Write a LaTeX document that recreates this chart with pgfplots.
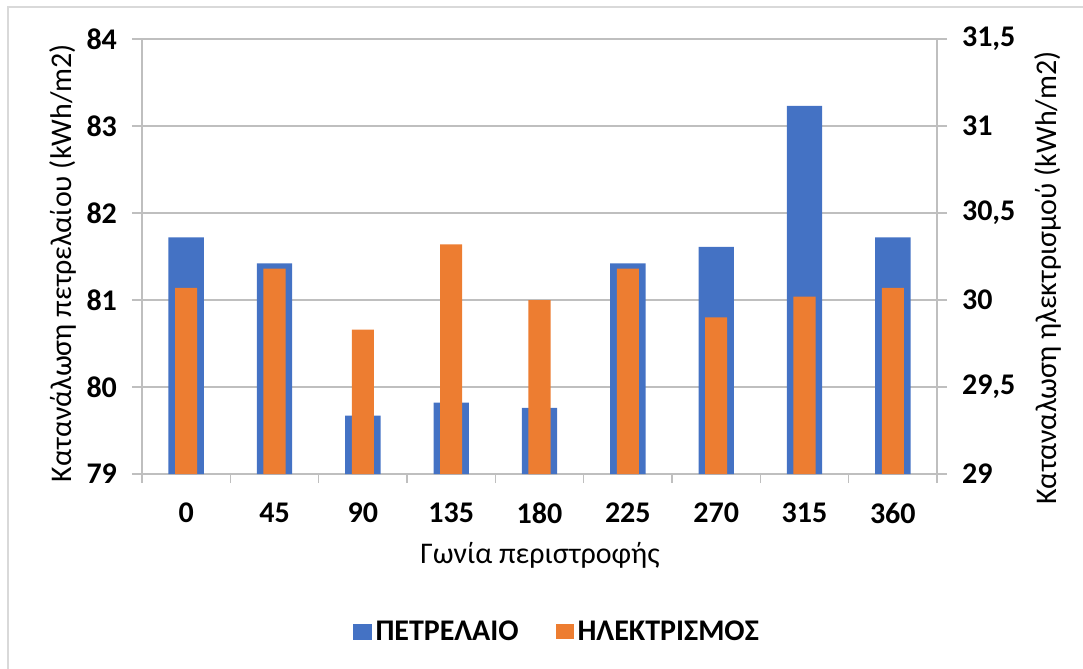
\documentclass[border=0pt]{standalone}
\usepackage{fontspec}
\setmainfont{Carlito}
\usepackage{pgfplots}
\usepackage{pgfplotstable}
\pgfplotsset{compat=1.18}
\definecolor{cblue}{HTML}{4472C4}
\definecolor{corange}{HTML}{ED7D31}
\definecolor{cgrid}{HTML}{BFBFBF}
\definecolor{cborder}{HTML}{D9D9D9}

\pgfplotstableread{
x oil elec
0 81.72 30.07
1 81.42 30.18
2 79.67 29.83
3 79.82 30.32
4 79.76 30.00
5 81.42 30.18
6 81.61 29.90
7 83.23 30.02
8 81.72 30.07
}\datatab

\pgfplotsset{
 common/.style={
  scale only axis, width=397.5pt, height=217.5pt,
  at={(71pt,-19.5pt)}, anchor=north west,
  xmin=-0.5, xmax=8.5,
  xtick={0,...,8}, xticklabels={0,45,90,135,180,225,270,315,360},
  minor xtick={-0.5,0.5,...,8.5},
  major x tick style={draw=none},
  tick align=outside,
  major tick length=5pt, minor tick length=4.5pt,
  ticklabel style={font=\fontsize{15}{18}\selectfont\bfseries},
  /pgf/number format/assume math mode=true,
  /pgf/number format/use comma,
  axis line style={cgrid, line width=0.75pt},
  tick style={cgrid, line width=0.75pt},
  ybar, bar shift=0pt,
  clip=true,
 }
}

\begin{document}
\begin{tikzpicture}[x=0.5pt,y=0.5pt]
\path[use as bounding box] (0,0) rectangle (1083,-669);
\draw[cborder, line width=0.75pt] (8,-669) -- (8,-7) -- (1083,-7);

\begin{axis}[common,
  ymin=79, ymax=84, ytick={79,...,84},
  axis y line*=left, axis x line*=bottom,
  ymajorgrids, grid style={cgrid, line width=0.75pt},
  bar width=0.4,
  xticklabel style={yshift=-6pt},
  yticklabel style={xshift=-4pt},
]
\addplot[fill=cblue, draw=none] table[x=x,y=oil]{\datatab};
\end{axis}

\begin{axis}[common,
  ymin=29, ymax=31.5, ytick={29,29.5,...,31.5},
  axis y line*=right, axis x line=none,
  bar width=0.25,
  yticklabel style={xshift=4pt},
  legend style={draw=none, fill=none, at={(0.523,-0.363)}, anchor=center,
    legend columns=2, font=\fontsize{15}{18}\selectfont\bfseries,
    /tikz/every even column/.append style={column sep=16.5pt},
    /tikz/every odd column/.append style={column sep=0pt}},
]
\addlegendimage{legend image code/.code={\fill[cblue] (0pt,-3.75pt) rectangle (9pt,3.75pt);}}
\addplot[fill=corange, draw=none,
  legend image code/.code={\fill[corange] (0pt,-3.75pt) rectangle (9pt,3.75pt);}]
  table[x=x,y=elec]{\datatab};
\legend{ΠΕΤΡΕΛΑΙΟ, ΗΛΕΚΤΡΙΣΜΟΣ}
\end{axis}

\node[rotate=90, anchor=base, font=\fontsize{15}{18}\selectfont] at (71,-263) {Κατανάλωση πετρελαίου (kWh/m2)};
\node[rotate=90, anchor=base, font=\fontsize{15}{18}\selectfont] at (1056,-278) {Καταναλωση ηλεκτρισμού (kWh/m2)};
\node[anchor=base, font=\fontsize{15}{18}\selectfont] at (540,-563) {Γωνία περιστροφής};
\end{tikzpicture}
\end{document}
